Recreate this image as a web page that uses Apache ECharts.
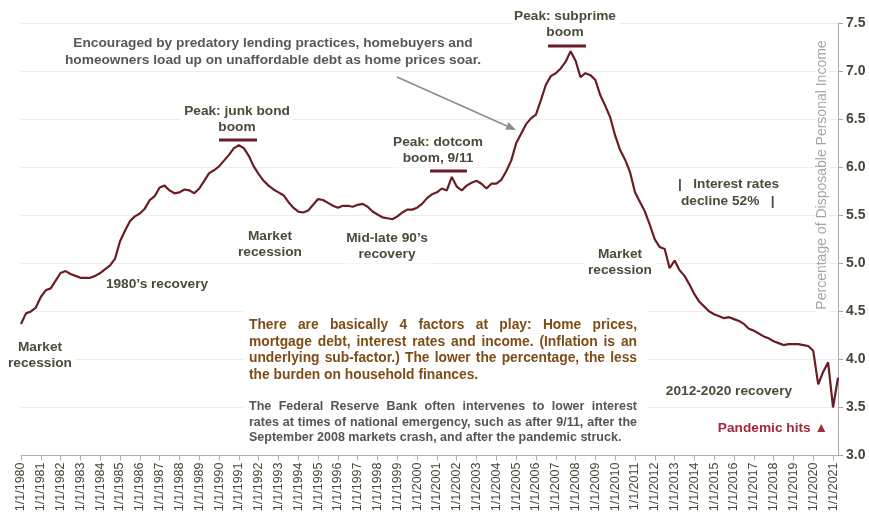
<!DOCTYPE html>
<html>
<head>
<meta charset="utf-8">
<title>Mortgage debt service as a percentage of disposable personal income</title>
<script src="https://cdn.jsdelivr.net/npm/echarts@6/dist/echarts.min.js"></script>
<style>
  html, body { margin: 0; padding: 0; background: #ffffff; }
  #chart { width: 869px; height: 516px; }
</style>
</head>
<body>
<div id="chart"></div>
<script>
// Quarterly observations, 1/1/1980 through 4/1/2021
const startYear = 1980;
const endYear = 2021;
const quarterStarts = ['1/1/', '4/1/', '7/1/', '10/1/'];

// Mortgage debt service payments, percent of disposable personal income
const debtServiceRatio = [
  4.37, 4.48, 4.50, 4.54, 4.65, 4.72, 4.74, 4.82, 4.90, 4.92,
  4.89, 4.87, 4.85, 4.85, 4.85, 4.87, 4.90, 4.94, 4.98, 5.05,
  5.23, 5.34, 5.44, 5.49, 5.52, 5.57, 5.66, 5.70, 5.79, 5.81,
  5.76, 5.73, 5.74, 5.77, 5.76, 5.73, 5.78, 5.86, 5.94, 5.97,
  6.01, 6.07, 6.13, 6.20, 6.23, 6.20, 6.12, 6.01, 5.93, 5.86,
  5.81, 5.77, 5.74, 5.71, 5.64, 5.58, 5.54, 5.53, 5.55, 5.61,
  5.67, 5.66, 5.63, 5.60, 5.58, 5.60, 5.60, 5.59, 5.61, 5.62,
  5.59, 5.54, 5.51, 5.48, 5.47, 5.46, 5.49, 5.53, 5.56, 5.56,
  5.58, 5.62, 5.68, 5.72, 5.74, 5.78, 5.76, 5.90, 5.80, 5.76,
  5.81, 5.84, 5.86, 5.83, 5.78, 5.83, 5.83, 5.87, 5.96, 6.07,
  6.25, 6.35, 6.45, 6.51, 6.55, 6.70, 6.86, 6.95, 6.98, 7.03,
  7.10, 7.21, 7.11, 6.94, 6.98, 6.96, 6.91, 6.75, 6.64, 6.52,
  6.33, 6.18, 6.08, 5.95, 5.74, 5.64, 5.54, 5.40, 5.25, 5.17,
  5.15, 4.95, 5.03, 4.93, 4.87, 4.78, 4.68, 4.60, 4.55, 4.50,
  4.47, 4.45, 4.43, 4.44, 4.42, 4.40, 4.37, 4.32, 4.30, 4.27,
  4.24, 4.22, 4.19, 4.17, 4.15, 4.16, 4.16, 4.16, 4.15, 4.14,
  4.09, 3.74, 3.87, 3.97, 3.50, 3.81
];

const categories = [];
for (let y = startYear; y <= endYear; y++) {
  for (const q of quarterStarts) categories.push(q + y);
}
categories.length = debtServiceRatio.length;

// Value axis ticks
const yMin = 3.0, yMax = 7.5, yStep = 0.5;

const LINE_COLOR = '#6a1d24';
const OLIVE = '#4b4b3a';
const FAMILY = '"Liberation Sans", Arial, sans-serif';
const labelFont = 'bold 13.7px ' + FAMILY;

function label(text, x, y, fill, align) {
  return {
    type: 'text', x: x, y: y, z: 2,
    style: {
      text: text, font: labelFont, fill: fill || OLIVE,
      textAlign: align || 'center', textVerticalAlign: 'middle',
      lineHeight: 16.5, backgroundColor: '#ffffff', padding: [1, 3]
    }
  };
}

function bar(x1, x2, y) {
  return {
    type: 'line', z: 3,
    shape: { x1: x1, y1: y, x2: x2, y2: y },
    style: { stroke: LINE_COLOR, lineWidth: 3 }
  };
}

// Lay out a paragraph with full justification (last line left aligned)
const measure = document.createElement('canvas').getContext('2d');
function paragraph(lines, x0, width, y0, step, font, fill) {
  measure.font = font;
  const out = [];
  lines.forEach(function (text, r) {
    const y = y0 + r * step;
    const words = text.split(' ');
    const last = r === lines.length - 1;
    if (last || words.length < 2) {
      out.push({ type: 'text', x: x0, y: y, z: 2,
        style: { text: text, font: font, fill: fill, textAlign: 'left', textVerticalAlign: 'middle' } });
      return;
    }
    const widths = words.map(function (w) { return measure.measureText(w).width; });
    const total = widths.reduce(function (a, b) { return a + b; }, 0);
    const gap = (width - total) / (words.length - 1);
    let x = x0;
    words.forEach(function (w, k) {
      out.push({ type: 'text', x: x, y: y, z: 2,
        style: { text: w, font: font, fill: fill, textAlign: 'left', textVerticalAlign: 'middle' } });
      x += widths[k] + gap;
    });
  });
  return out;
}

const factorLines = [
  'There are basically 4 factors at play: Home prices,',
  'mortgage debt, interest rates and income. (Inflation is an',
  'underlying sub-factor.) The lower the percentage, the less',
  'the burden on household finances.'
];
const fedLines = [
  'The Federal Reserve Bank often intervenes to lower interest',
  'rates at times of national emergency, such as after 9/11, after the',
  'September 2008 markets crash, and after the pandemic struck.'
];

// Arrow from the note down to the run-up of the subprime boom
const arrowFrom = [397, 77], arrowTo = [516, 130];
const ang = Math.atan2(arrowTo[1] - arrowFrom[1], arrowTo[0] - arrowFrom[0]);
const headLen = 10, headHalf = 4;
const base = [arrowTo[0] - headLen * Math.cos(ang), arrowTo[1] - headLen * Math.sin(ang)];
const arrowHead = [
  arrowTo,
  [base[0] + headHalf * Math.sin(ang), base[1] - headHalf * Math.cos(ang)],
  [base[0] - headHalf * Math.sin(ang), base[1] + headHalf * Math.cos(ang)]
];

const graphics = [
  { type: 'rect', z: 1, shape: { x: 243, y: 306, width: 404, height: 142 }, style: { fill: '#ffffff' } },
  label('Encouraged by predatory lending practices, homebuyers and\nhomeowners load up on unaffordable debt as home prices soar.', 273, 51.5, '#585858'),
  { type: 'line', z: 3, shape: { x1: arrowFrom[0], y1: arrowFrom[1], x2: base[0], y2: base[1] },
    style: { stroke: '#8c8c8c', lineWidth: 1.6 } },
  { type: 'polygon', z: 3, shape: { points: arrowHead }, style: { fill: '#8c8c8c' } },
  label('Peak: junk bond\nboom', 237, 119),
  bar(219, 257, 140),
  label('Peak: dotcom\nboom, 9/11', 438, 150),
  bar(430, 467, 171),
  label('Peak: subprime\nboom', 565, 24),
  bar(548, 586, 46),
  label('Market\nrecession', 40, 355),
  label('1980\u2019s recovery', 157, 284),
  label('Market\nrecession', 270, 244),
  label('Mid-late 90\u2019s\nrecovery', 387, 246),
  label('Market\nrecession', 620, 262),
  label('|   Interest rates', 675, 184, OLIVE, 'left'),
  label('decline 52%   |', 678, 201, OLIVE, 'left'),
  label('2012-2020 recovery', 729, 391),
  label('Pandemic hits \u25B2', 831, 428, '#a52a3a', 'right'),
  {
    type: 'text', x: 822, y: 175, z: 2, rotation: Math.PI / 2,
    style: {
      text: 'Percentage of Disposable Personal Income', font: '14px ' + FAMILY,
      fill: '#a6a6a6', textAlign: 'center', textVerticalAlign: 'middle',
      backgroundColor: '#ffffff', padding: [0, 4]
    }
  }
]
  .concat(paragraph(factorLines, 249, 388, 325, 16.7, 'bold 13.8px ' + FAMILY, '#7e4c16'))
  .concat(paragraph(fedLines, 249, 388, 407, 15.3, 'bold 12.5px ' + FAMILY, '#555555'));

const chart = echarts.init(document.getElementById('chart'), null, { renderer: 'canvas' });
chart.setOption({
  animation: false,
  backgroundColor: '#ffffff',
  grid: { left: 21, right: 31, top: 23.3, bottom: 60.5, containLabel: false },
  xAxis: {
    type: 'category',
    data: categories,
    boundaryGap: false,
    axisLine: { lineStyle: { color: '#b0b0b0', width: 1 } },
    axisTick: { interval: 3, length: 5, lineStyle: { color: '#b0b0b0' } },
    axisLabel: {
      interval: 3, rotate: 90, margin: 7,
      color: '#474739', fontSize: 12.5, fontFamily: FAMILY
    },
    splitLine: { show: false }
  },
  yAxis: {
    type: 'value',
    position: 'right',
    min: yMin, max: yMax, interval: yStep,
    axisLine: { show: true, lineStyle: { color: '#a8a8a8' } },
    axisTick: { show: true, length: 5, lineStyle: { color: '#a8a8a8' } },
    axisLabel: {
      margin: 8, color: '#474739', fontSize: 14, fontWeight: 'bold', fontFamily: FAMILY,
      formatter: function (v) { return v.toFixed(1); }
    },
    splitLine: { show: true, lineStyle: { color: '#ededed', width: 1 } }
  },
  series: [{
    name: 'Mortgage debt service',
    type: 'line',
    data: debtServiceRatio,
    symbol: 'none',
    z: 4,
    lineStyle: { color: LINE_COLOR, width: 2.2 }
  }],
  graphic: graphics
});
</script>
</body>
</html>
